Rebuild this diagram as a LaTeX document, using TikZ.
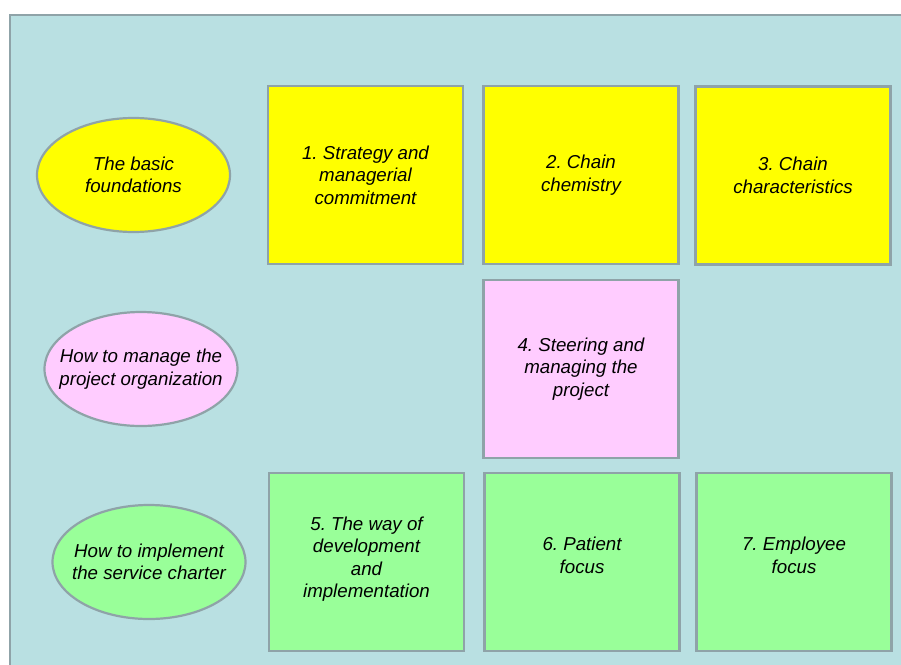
\documentclass[tikz,border=0pt]{standalone}
\usepackage{fontspec}
\setmainfont{Liberation Sans}
\usepackage{xcolor}
\usepackage{tikz}
\usetikzlibrary{shapes.geometric}
\usetikzlibrary{positioning}
\frenchspacing

\definecolor{sheet}{HTML}{B9E0E2}
\definecolor{edge}{HTML}{8FA3A8}
\definecolor{chartyellow}{HTML}{FFFF00}
\definecolor{chartpink}{HTML}{FFCCFF}
\definecolor{chartgreen}{HTML}{99FF99}

\begin{document}
\begin{tikzpicture}
[every node/.style={inner sep=0pt, align=center, font=\itshape\fontsize{18.7}{22.4}\selectfont},
 box/.style={rectangle, minimum width=195pt, minimum height=178pt, line width=2.2pt, draw=edge},
 oval/.style={ellipse, inner xsep=-20pt, minimum width=193pt, minimum height=114pt, line width=2.2pt, draw=edge}]
\useasboundingbox (0pt,0pt) rectangle (901pt,-664pt);
\draw [line width=2.5pt, draw=edge, fill=sheet] (10pt,-15pt) rectangle (912pt,-676pt);
% row ovals
\node (a) [oval, fill=chartyellow] at (133.5pt, -175pt) {The basic\\foundations};
\node (b) [oval, fill=chartpink] at (141pt, -369pt) {How to manage the\\project organization};
\node (c) [oval, fill=chartgreen] at (149pt, -562pt) {How to implement\\the service charter};
% boxes
\node (1) [box, fill=chartyellow] at (365.5pt, -175pt) {1. Strategy and\\managerial\\commitment};
\node (2) [box, fill=chartyellow] at (581pt, -175pt) {2. Chain\\chemistry};
\node (3) [box, fill=chartyellow] at (793pt, -175.5pt) {3. Chain\\characteristics};
\node (4) [box, fill=chartpink] at (581pt, -369pt) {4. Steering and\\managing the\\project};
\node (5) [box, fill=chartgreen, label={[name=t5, yshift=3pt]center:{5. The way of\\development\\and\\implementation}}] at (366.5pt, -562pt) {};
\node (6) [box, fill=chartgreen, label={[name=t6, yshift=6.5pt]center:{6. Patient\\focus}}] at (582pt, -562pt) {};
\node (7) [box, fill=chartgreen, label={[name=t7, yshift=6.5pt]center:{7. Employee\\focus}}] at (794pt, -562pt) {};
\end{tikzpicture}
\end{document}
